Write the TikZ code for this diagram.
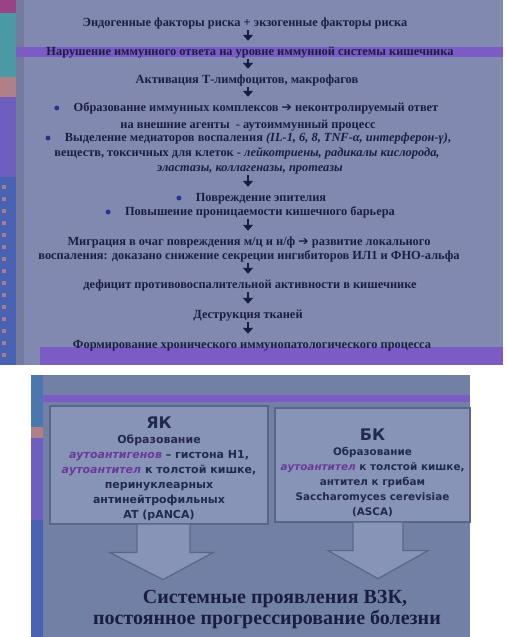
\documentclass[tikz,border=0pt]{standalone}
\usepackage{fontspec}
\setmainfont{Liberation Serif}
\newfontfamily\boxfont{DejaVu Sans}[ItalicFont={DejaVu Sans Oblique},BoldFont={DejaVu Sans Bold},BoldItalicFont={DejaVu Sans Bold Oblique}]
\newfontfamily\symfont{DejaVu Sans}
\usepackage{tikz}
\usetikzlibrary{arrows.meta,positioning,calc}
\usepackage{xcolor}
\definecolor{topbg}{HTML}{8189B0}
\definecolor{botbg}{HTML}{7280A6}
\definecolor{boxfill}{HTML}{8794B8}
\definecolor{boxedge}{HTML}{5A6688}
\definecolor{band}{HTML}{7B5CC4}
\definecolor{navy}{HTML}{1A1D42}
\definecolor{boxtext}{HTML}{232850}
\definecolor{boxpurple}{HTML}{6A3A9A}
\definecolor{bulcol}{HTML}{2C3290}
\definecolor{stripteal}{HTML}{4A9AA6}
\definecolor{stripsalmon}{HTML}{B08088}
\definecolor{strippurple}{HTML}{6E5EC0}
\definecolor{stripblue}{HTML}{4A62B4}
\definecolor{stripdot}{HTML}{A08090}
\newcommand{\rarr}{{\symfont\mdseries ➔}}
\newcommand{\purp}[1]{{\itshape\color{boxpurple}#1}}

\begin{document}
\begin{tikzpicture}[x=1pt,y=-1pt,
  line/.style={anchor=base,inner sep=1pt,text height=9pt,text depth=3pt,text=navy,
    font=\bfseries\fontsize{12.4}{14}\selectfont},
  bul/.style={circle,fill=bulcol,inner sep=0pt,minimum size=5pt},
  downarr/.style={draw=navy,line width=2.4pt,-{Triangle[width=10pt,length=6pt]},shorten >=4pt},
  slidebox/.style={draw=boxedge,line width=1.2pt,fill=boxfill,align=center,text=boxtext,
    inner xsep=0pt,font=\boxfont\bfseries\fontsize{11}{15}\selectfont},
  bigarr/.style={draw=boxedge,line width=1.2pt,fill=boxfill,line join=miter},
  bigline/.style={anchor=base,inner sep=1pt,text=navy,font=\bfseries\fontsize{20}{22}\selectfont}]
\useasboundingbox (0,0) rectangle (506,637);
\fill[white] (0,0) rectangle (506,637);

% upper slide
\fill[topbg] (0,0) rectangle (503,365);
\fill[strippurple!70!red] (0,0) rectangle (16,13);
\fill[stripteal] (0,13) rectangle (16,77);
\fill[stripsalmon] (0,77) rectangle (16,97);
\fill[strippurple] (0,97) rectangle (16,177);
\fill[stripblue] (0,177) rectangle (16,365);
\foreach \y in {185,197,...,360}{
  \fill[stripdot] (2,\y) rectangle (6,\y+4);
}
\fill[topbg!90!black] (16,0) rectangle (24,365);
\fill[band] (16,47) rectangle (503,57);
\fill[band] (40,347) rectangle (503,365);

% lower slide
\fill[botbg] (31,375) rectangle (470,637);
\fill[stripblue!60!stripteal] (31,375) rectangle (43,427);
\fill[stripsalmon] (31,427) rectangle (43,438);
\fill[strippurple] (31,438) rectangle (43,520);
\fill[stripblue] (31,520) rectangle (43,637);
\fill[band] (43,395) rectangle (470,402);

\coordinate (ax) at (248,0);

\node[line] (l1) at (245,26) {Эндогенные факторы риска + экзогенные факторы риска};
\node[line] (l2) at (250,55) {Нарушение иммунного ответа на уровне иммунной системы кишечника};
\node[line] (l3) at (247,83) {Активация Т-лимфоцитов, макрофагов};
\node[line] (l4) at (256,111) {Образование иммунных комплексов \rarr{} неконтролируемый ответ};
\node[line] (l5) at (248,128) {на внешние агенты~~- аутоиммунный процесс};
\node[line] (l6) at (258,141) {Выделение медиаторов воспаления \textit{(IL-1, 6, 8, TNF-α, интерферон-γ)},};
\node[line] (l7) at (247,156) {веществ, токсичных для клеток - \textit{лейкотриены, радикалы кислорода,}};
\node[line] (l8) at (250,171) {\textit{эластазы, коллагеназы, протеазы}};
\node[line] (l9) at (261,201) {Повреждение эпителия};
\node[line] (l10) at (260,215) {Повышение проницаемости кишечного барьера};
\node[line] (l11) at (249,245) {Миграция в очаг повреждения м/ц и н/ф \rarr{} развитие локального};
\node[line] (l12) at (249,259) {воспаления: доказано снижение секреции ингибиторов ИЛ1 и ФНО-альфа};
\node[line] (l13) at (250,288) {дефицит противовоспалительной активности в кишечнике};
\node[line] (l14) at (248,318) {Деструкция тканей};
\node[line] (l15) at (252,348) {Формирование хронического иммунопатологического процесса};

\node[bul,left=13pt of l4] (b4) {};
\node[bul,left=13pt of l6] (b6) {};
\node[bul,left=13pt of l9] (b9) {};
\node[bul,left=13pt of l10] (b10) {};

\draw[downarr] (l1.south -| ax) -- (l2.north -| ax);
\draw[downarr] (l2.south -| ax) -- (l3.north -| ax);
\draw[downarr] (l3.south -| ax) -- (l4.north -| ax);
\draw[downarr] (l8.south -| ax) -- (l9.north -| ax);
\draw[downarr] (l10.south -| ax) -- (l11.north -| ax);
\draw[downarr] (l12.south -| ax) -- (l13.north -| ax);
\draw[downarr] (l13.south -| ax) -- (l14.north -| ax);
\draw[downarr] (l14.south -| ax) -- (l15.north -| ax);

% boxes
\node[slidebox,minimum width=218pt,minimum height=114pt] (yak) at (159,465)
  {\rule{0pt}{19pt}{\fontsize{16}{16}\selectfont ЯК}\\Образование\\\purp{аутоантигенов} – гистона Н1,\\
   \purp{аутоантител} к толстой кишке,\\перинуклеарных\\антинейтрофильных\\AT (pANCA)};
\node[slidebox,minimum width=195pt,minimum height=114pt,font=\boxfont\bfseries\fontsize{10.4}{15}\selectfont]
  (bk) at (372.5,465)
  {\rule{0pt}{27pt}{\fontsize{16}{16}\selectfont БК}\\Образование\\\purp{аутоантител} к толстой кишке,\\
   антител к грибам\\Saccharomyces cerevisiae\\(ASCA)};

\draw[bigarr] ([xshift=-22pt]yak.south) -- ++(0,28) -- ++(-27,0) -- ++(53,27)
  -- ++(50,-27) -- ++(-23,0) -- ++(0,-28);
\draw[bigarr] ([xshift=-19.5pt]bk.south) -- ++(0,28) -- ++(-25,0) -- ++(50,28)
  -- ++(50,-28) -- ++(-25,0) -- ++(0,-28);

\node[bigline] (sys1) at (275,603) {Системные проявления ВЗК,};
\node[bigline] (sys2) at (267,624) {постоянное прогрессирование болезни};
\end{tikzpicture}
\end{document}
